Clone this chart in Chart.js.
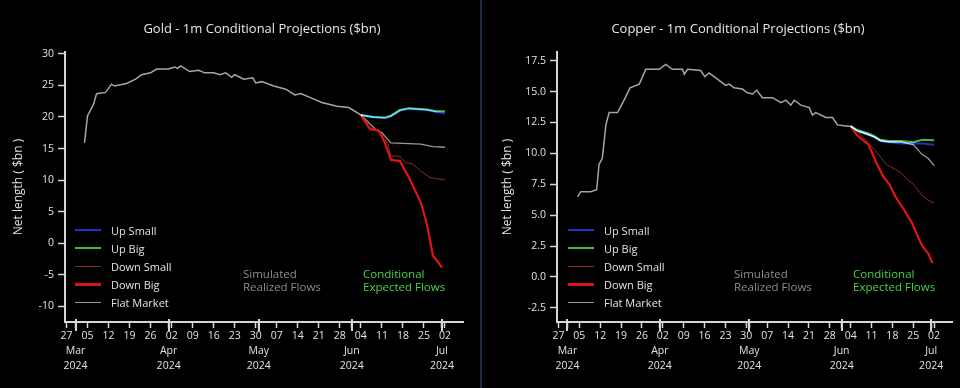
<!DOCTYPE html>
<html lang="en">
<head>
<meta charset="UTF-8">
<title>Gold and Copper - 1m Conditional Projections</title>
<script src="https://cdn.jsdelivr.net/npm/chart.js"></script>
<style>
  body { margin: 0; background: #000; font-family: 'Open Sans', sans-serif; }
  #wrap { position: relative; width: 960px; height: 388px; background: #000; overflow: hidden; }
  .panel { position: absolute; top: 0; width: 480px; height: 388px; }
  .panel canvas { position: absolute; left: 0; top: 0; }
  .title { position: absolute; top: 19px; width: 480px; text-align: center; color: #e6e6e6; font-size: 13px; line-height: 18px; }
  .legend { position: absolute; top: 221px; font-size: 11px; color: #e2e2e2; }
  .legend div { height: 18.2px; display: flex; align-items: center; }
  .legend .ln { display: inline-block; width: 26px; margin-right: 10px; }
  .note { position: absolute; top: 267px; font-size: 11.5px; line-height: 13px; }
  .sim { color: #8c8c8c; }
  .cond { color: #44d444; }
  #divider { position: absolute; left: 480px; top: 0; width: 2px; height: 388px; background: #1f2b47; }
</style>
</head>
<body>
<div id="wrap">
  <div class="panel" style="left:0">
    <canvas id="goldChart" width="480" height="388"></canvas>
    <div class="title" style="left:22px">Gold - 1m Conditional Projections ($bn)</div>
    <div class="legend" style="left:75px">
      <div><span class="ln" style="border-top:2px solid #2232c8"></span>Up Small</div>
      <div><span class="ln" style="border-top:2px solid #46b446"></span>Up Big</div>
      <div><span class="ln" style="border-top:1px solid #8c2a24"></span>Down Small</div>
      <div><span class="ln" style="border-top:3px solid #d81414"></span>Down Big</div>
      <div><span class="ln" style="border-top:1px solid #9a9a9a"></span>Flat Market</div>
    </div>
    <div class="note sim" style="left:243px">Simulated<br>Realized Flows</div>
    <div class="note cond" style="left:363px">Conditional<br>Expected Flows</div>
  </div>
  <div id="divider"></div>
  <div class="panel" style="left:480px">
    <canvas id="copperChart" width="480" height="388"></canvas>
    <div class="title" style="left:18px">Copper - 1m Conditional Projections ($bn)</div>
    <div class="legend" style="left:88px">
      <div><span class="ln" style="border-top:2px solid #2232c8"></span>Up Small</div>
      <div><span class="ln" style="border-top:2px solid #46b446"></span>Up Big</div>
      <div><span class="ln" style="border-top:1px solid #8c2a24"></span>Down Small</div>
      <div><span class="ln" style="border-top:3px solid #d81414"></span>Down Big</div>
      <div><span class="ln" style="border-top:1px solid #9a9a9a"></span>Flat Market</div>
    </div>
    <div class="note sim" style="left:254px">Simulated<br>Realized Flows</div>
    <div class="note cond" style="left:373px">Conditional<br>Expected Flows</div>
  </div>
</div>

<script>
// x values are day offsets from 1 Mar 2024 (day 0)
const weekTicks = [-3, 4, 11, 18, 25, 32, 39, 46, 53, 60, 67, 74, 81, 88, 95, 102, 109, 116, 123];
const weekLabels = ['27', '05', '12', '19', '26', '02', '09', '16', '23', '30', '07', '14', '21', '28', '04', '11', '18', '25', '02'];
const monthTicks = [0, 31, 61, 92, 122];
const monthLabels = ['Mar', 'Apr', 'May', 'Jun', 'Jul'];
const yearLabel = '2024';

// Gold - realized history
const goldHistDays = [3, 4, 6, 7, 10, 12, 13, 17, 20, 22, 25, 27, 31, 33, 34, 35, 38, 41, 43, 46, 48, 50, 52, 53, 56, 59, 60, 62, 66, 70, 73, 75, 78, 82, 87, 91, 94, 95];
const goldHistVals = [15.9, 20.2, 22.0, 23.7, 23.9, 25.2, 24.9, 25.3, 26.0, 26.7, 27.0, 27.6, 27.6, 27.9, 27.7, 28.1, 27.2, 27.4, 27.0, 27.0, 26.7, 27.0, 26.3, 26.7, 26.0, 26.2, 25.4, 25.6, 24.9, 24.4, 23.5, 23.7, 23.1, 22.3, 21.7, 21.5, 20.6, 20.3];
// Gold - scenarios
const goldUpDays = [95, 99, 103, 105, 108, 111, 117, 120, 123];
const goldUpSmall = [20.3, 20.0, 19.8, 20.1, 21.0, 21.3, 21.1, 20.8, 20.6];
const goldUpBig = [20.3, 20.0, 19.9, 20.2, 21.1, 21.4, 21.2, 20.9, 20.9];
const goldDownSmallDays = [95, 98, 101, 104, 105, 108, 110, 112, 115, 118, 123];
const goldDownSmall = [20.3, 18.3, 17.9, 15.7, 13.8, 13.8, 12.7, 12.6, 11.4, 10.4, 10.0];
const goldDownBigDays = [95, 98, 101, 103, 105, 108, 111, 115, 117, 119, 121, 122];
const goldDownBig = [20.3, 18.1, 17.8, 15.9, 13.2, 13.0, 10.4, 6.4, 3.0, -2.0, -3.2, -3.9];
const goldFlatDays = [95, 100, 102, 105, 109, 115, 119, 123];
const goldFlat = [20.3, 18.0, 17.5, 15.9, 15.8, 15.7, 15.3, 15.2];

// Copper - realized history
const copperHistDays = [3.4, 4.5, 5.6, 7.8, 9.8, 10.6, 11.7, 12.9, 14, 16.8, 19, 21, 24.1, 26.3, 30.8, 33, 35.2, 38.6, 39.2, 40.3, 44.7, 46.1, 47.5, 49.2, 53.1, 54.3, 55.9, 58.7, 60.4, 62.1, 63.5, 65.4, 68.8, 71.6, 73.3, 74.9, 76.1, 78.3, 81.1, 82.2, 83.3, 86.7, 88.9, 90.6, 94, 95];
const copperHistVals = [6.5, 6.9, 6.9, 6.9, 7.05, 9.1, 9.6, 12.3, 13.3, 13.3, 14.3, 15.3, 15.6, 16.8, 16.8, 17.2, 16.8, 16.8, 16.4, 16.8, 16.7, 16.2, 16.5, 16.2, 15.5, 15.6, 15.3, 15.2, 14.9, 14.8, 15.1, 14.5, 14.5, 14.1, 14.3, 13.9, 14.3, 13.9, 13.7, 13.1, 13.3, 12.9, 12.9, 12.3, 12.2, 12.2];
// Copper - scenarios
const copperUpDays = [95, 97, 101, 103, 105, 108, 112, 116, 119, 123];
const copperUpSmall = [12.2, 11.9, 11.5, 11.3, 11.0, 10.9, 10.8, 10.8, 10.8, 10.7];
const copperUpBig = [12.2, 11.9, 11.6, 11.4, 11.1, 11.0, 11.0, 10.9, 11.1, 11.05];
const copperFlatDays = [95, 97, 101, 103, 105, 108, 112, 116, 119, 121, 123];
const copperFlat = [12.2, 11.8, 11.5, 11.3, 11.0, 10.9, 10.9, 10.7, 9.9, 9.6, 9.0];
const copperDownSmallDays = [95, 98, 103, 107, 110, 112, 114, 116, 119, 121, 123];
const copperDownSmall = [12.2, 11.6, 10.3, 9.1, 8.7, 8.4, 7.9, 7.5, 6.6, 6.2, 6.0];
const copperDownBigDays = [95, 97, 101, 103.5, 106, 108, 110, 113, 115.5, 117.5, 119, 121, 122.5];
const copperDownBig = [12.2, 11.5, 10.7, 9.3, 8.1, 7.5, 6.5, 5.4, 4.4, 3.3, 2.5, 1.9, 1.1];

const axisColor = '#d6d6d6';
const textColor = '#e2e2e2';

function pts(days, vals) {
    return days.map((d, i) => ({ x: d, y: vals[i] }));
}

// up lines are added with 'lighter' so overlapping blue + green reads cyan
const blendPlugin = {
    id: 'blend',
    beforeDatasetDraw(chart, args) {
        if (chart.data.datasets[args.index].blend) {
            chart.ctx.save();
            chart.ctx.globalCompositeOperation = 'lighter';
        }
    },
    afterDatasetDraw(chart, args) {
        if (chart.data.datasets[args.index].blend) chart.ctx.restore();
    }
};

// taller tick marks at month starts
const monthTickPlugin = {
    id: 'monthTicks',
    afterDraw(chart) {
        const xs = chart.scales.x;
        const ctx = chart.ctx;
        ctx.save();
        ctx.strokeStyle = axisColor;
        ctx.lineWidth = 2;
        monthTicks.forEach(v => {
            const px = Math.round(xs.getPixelForValue(v));
            ctx.beginPath();
            ctx.moveTo(px, xs.top - 3);
            ctx.lineTo(px, xs.top + 9);
            ctx.stroke();
        });
        ctx.restore();
    }
};

function makeChart(id, s, cfg) {
    const datasets = [
        { label: 'Up Small', data: pts(s.upDays, s.upSmall), borderColor: '#2232b4', borderWidth: 2, blend: true },
        { label: 'Up Big', data: pts(s.upDays, s.upBig), borderColor: '#46b446', borderWidth: 2, blend: true },
        { label: 'Down Big', data: pts(s.downBigDays, s.downBig), borderColor: '#e01414', borderWidth: 2.2 },
        { label: 'Down Small', data: pts(s.downSmallDays, s.downSmall), borderColor: '#8c2a24', borderWidth: 1 },
        { label: 'Flat Market', data: pts(s.flatDays, s.flat), borderColor: '#9a9a9a', borderWidth: 1.3 },
        { label: 'Realized', data: pts(s.histDays, s.histVals), borderColor: '#a6a6a6', borderWidth: 1.5 }
    ];
    return new Chart(document.getElementById(id), {
        type: 'line',
        data: { datasets: datasets },
        options: {
            responsive: false,
            animation: false,
            devicePixelRatio: 1,
            parsing: false,
            elements: { point: { radius: 0 }, line: { tension: 0, fill: false } },
            layout: { padding: { top: 52, right: cfg.padRight, bottom: 0, left: cfg.padLeft } },
            plugins: { legend: { display: false }, tooltip: { enabled: false }, title: { display: false } },
            scales: {
                x: {
                    type: 'linear',
                    min: -3.5,
                    max: 129,
                    afterFit: sc => { sc.height = 66; },
                    afterBuildTicks: sc => {
                        sc.ticks = weekTicks.concat(monthTicks).sort((a, b) => a - b).map(v => ({ value: v }));
                    },
                    border: { display: true, color: axisColor, width: 2 },
                    grid: { drawOnChartArea: false, drawTicks: true, tickLength: 6, tickColor: axisColor, tickWidth: 1.5 },
                    ticks: {
                        autoSkip: false,
                        maxRotation: 0,
                        padding: 0,
                        color: textColor,
                        font: { family: 'Open Sans', size: 10.5, lineHeight: 1.45 },
                        callback: v => {
                            const w = weekTicks.indexOf(v);
                            if (w >= 0) return weekLabels[w];
                            const m = monthTicks.indexOf(v);
                            if (m >= 0) return ['', monthLabels[m], yearLabel];
                            return '';
                        }
                    }
                },
                y: {
                    min: cfg.yMin,
                    max: cfg.yMax,
                    afterFit: sc => { sc.width = cfg.yWidth; },
                    border: { display: true, color: axisColor, width: 2 },
                    grid: { drawOnChartArea: false, drawTicks: true, tickLength: 7, tickColor: axisColor, tickWidth: 1.5 },
                    title: {
                        display: true,
                        text: 'Net length ( $bn )',
                        color: textColor,
                        font: { family: 'Open Sans', size: 12 },
                        padding: { top: 11, bottom: 0 }
                    },
                    ticks: {
                        stepSize: cfg.step,
                        includeBounds: false,
                        padding: 4,
                        color: textColor,
                        font: { family: 'Open Sans', size: 10.5 },
                        callback: v => cfg.decimals ? v.toFixed(cfg.decimals) : String(v)
                    }
                }
            }
        },
        plugins: [blendPlugin, monthTickPlugin]
    });
}

makeChart('goldChart', {
    histDays: goldHistDays, histVals: goldHistVals,
    upDays: goldUpDays, upSmall: goldUpSmall, upBig: goldUpBig,
    downSmallDays: goldDownSmallDays, downSmall: goldDownSmall,
    downBigDays: goldDownBigDays, downBig: goldDownBig,
    flatDays: goldFlatDays, flat: goldFlat
}, { yMin: -12.5, yMax: 30.3, step: 5, decimals: 0, yWidth: 65, padLeft: 0, padRight: 17 });

makeChart('copperChart', {
    histDays: copperHistDays, histVals: copperHistVals,
    upDays: copperUpDays, upSmall: copperUpSmall, upBig: copperUpBig,
    downSmallDays: copperDownSmallDays, downSmall: copperDownSmall,
    downBigDays: copperDownBigDays, downBig: copperDownBig,
    flatDays: copperFlatDays, flat: copperFlat
}, { yMin: -3.65, yMax: 18.2, step: 2.5, decimals: 1, yWidth: 68, padLeft: 9, padRight: 8 });
</script>
</body>
</html>
